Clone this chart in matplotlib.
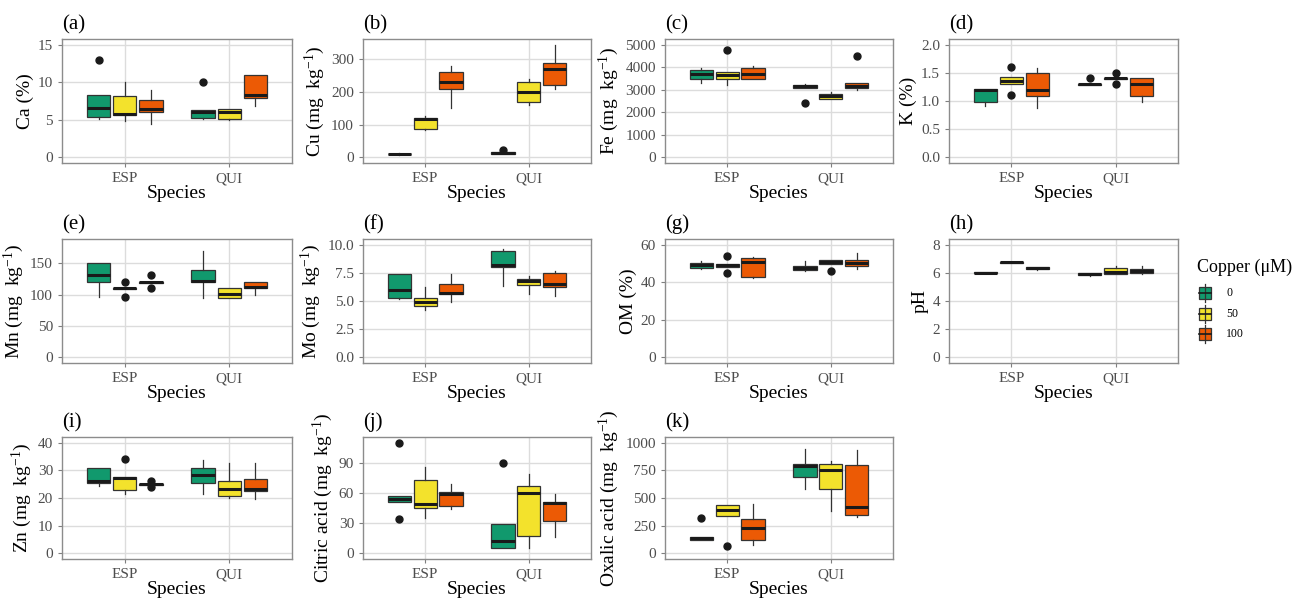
import matplotlib
matplotlib.use("Agg")
import matplotlib.pyplot as plt
from matplotlib.patches import Rectangle
from matplotlib.lines import Line2D

plt.rcParams['font.family'] = ['Liberation Serif', 'DejaVu Serif']
plt.rcParams['mathtext.fontset'] = 'custom'
plt.rcParams['mathtext.rm'] = 'Liberation Serif'
plt.rcParams['mathtext.it'] = 'Liberation Serif:italic'

species = ['ESP', 'QUI']
copper = ['0', '50', '100']
colors = ['#11996d', '#f3e22c', '#ec5a05']

# rows: ESP 0/50/100, QUI 0/50/100 ; cols: whisker low, Q1, median, Q3, whisker high
ca_box = [[5.1, 5.4, 6.6, 8.3, 8.3], [4.8, 5.6, 5.8, 8.2, 10.0], [4.5, 6.1, 6.5, 7.6, 8.9],
          [5.1, 5.3, 6.1, 6.3, 6.3], [5.0, 5.1, 6.0, 6.4, 6.4], [6.9, 7.9, 8.3, 11.0, 11.0]]
ca_out = [[13], [], [], [10], [], []]

cu_box = [[8, 9, 10, 11, 12], [85, 88, 118, 122, 128], [150, 210, 230, 260, 280],
          [10, 11, 13, 15, 16], [160, 170, 200, 230, 240], [210, 220, 270, 290, 345]]
cu_out = [[], [], [], [22], [], []]

fe_box = [[3320, 3470, 3680, 3890, 3960], [3200, 3480, 3640, 3790, 3800], [3480, 3480, 3690, 3980, 4050],
          [3070, 3070, 3150, 3230, 3270], [2580, 2580, 2700, 2810, 2890], [3010, 3060, 3160, 3300, 3300]]
fe_out = [[], [4780], [], [2400], [], [4500]]

k_box = [[0.91, 0.99, 1.19, 1.21, 1.21], [1.30, 1.30, 1.36, 1.42, 1.42], [0.88, 1.09, 1.20, 1.50, 1.59],
         [1.29, 1.29, 1.30, 1.31, 1.31], [1.39, 1.39, 1.40, 1.41, 1.41], [0.99, 1.09, 1.30, 1.40, 1.40]]
k_out = [[], [1.6, 1.1], [], [1.4], [1.5, 1.3], []]

mn_box = [[97, 120, 131, 150, 150], [109, 109, 110, 111, 111], [119, 119, 120, 121, 121],
          [94, 120, 122, 140, 170], [94, 95, 101, 110, 110], [100, 110, 112, 120, 120]]
mn_out = [[], [120, 97], [131, 110], [], [], []]

mo_box = [[5.15, 5.25, 5.96, 7.4, 7.4], [4.2, 4.56, 4.94, 5.26, 6.2], [4.94, 5.6, 5.7, 6.55, 7.36],
          [6.3, 8.05, 8.15, 9.4, 9.6], [5.6, 6.45, 6.75, 6.95, 7.2], [5.4, 6.2, 6.55, 7.47, 7.7]]
mo_out = [[], [], [], [], [], []]

om_box = [[46.8, 47.7, 48.9, 50.4, 51.2], [48.2, 48.2, 49.1, 49.8, 49.8], [42.1, 42.6, 50.7, 53.0, 53.5],
          [46.0, 46.5, 47.7, 48.8, 51.4], [49.5, 49.5, 50.9, 51.8, 51.8], [47.0, 48.8, 50.4, 51.8, 55.6]]
om_out = [[], [53.9, 44.7], [], [], [46.0], []]

ph_box = [[5.96, 5.96, 6.0, 6.05, 6.05], [6.71, 6.71, 6.75, 6.8, 6.8], [6.2, 6.25, 6.34, 6.43, 6.43],
          [5.78, 5.85, 5.92, 6.0, 6.0], [5.9, 5.94, 6.08, 6.34, 6.48], [5.92, 6.01, 6.15, 6.29, 6.48]]
ph_out = [[], [], [], [], [], []]

zn_box = [[24.2, 25.4, 26.0, 30.9, 30.9], [21.6, 22.8, 27.1, 27.5, 27.5], [24.7, 24.8, 25.0, 25.2, 25.3],
          [21.6, 25.5, 28.4, 30.9, 33.8], [19.9, 20.8, 23.2, 26.0, 32.7], [19.6, 22.5, 23.2, 26.9, 32.7]]
zn_out = [[], [34], [26, 24], [], [], []]

cit_box = [[50.7, 50.7, 53.7, 56.8, 56.8], [34.7, 45.4, 49.1, 73, 86], [43.9, 47, 59.3, 61.4, 69],
           [5, 5.5, 12.3, 29.2, 29.2], [5, 17.2, 60, 67, 79], [16, 32.5, 50, 51.3, 58.6]]
cit_out = [[110, 34.4], [], [], [89.3], [], []]

ox_box = [[123, 123, 137, 152, 152], [336, 336, 395, 439, 439], [73, 117, 228, 307, 444],
          [579, 687, 789, 804, 944], [380, 585, 751, 804, 833], [330, 351, 418, 795, 933]]
ox_out = [[316], [67], [], [], [], []]

unit = r'(mg  kg$^{-1}$)'
panels = [
    ('(a)', 'Ca (%)', ca_box, ca_out, [0, 5, 10, 15], 15, '{:g}'),
    ('(b)', 'Cu ' + unit, cu_box, cu_out, [0, 100, 200, 300], 345, '{:g}'),
    ('(c)', 'Fe ' + unit, fe_box, fe_out, [0, 1000, 2000, 3000, 4000, 5000], 5000, '{:g}'),
    ('(d)', 'K (%)', k_box, k_out, [0, 0.5, 1.0, 1.5, 2.0], 2.0, '{:.1f}'),
    ('(e)', 'Mn ' + unit, mn_box, mn_out, [0, 50, 100, 150], 180, '{:g}'),
    ('(f)', 'Mo ' + unit, mo_box, mo_out, [0, 2.5, 5.0, 7.5, 10.0], 10.0, '{:.1f}'),
    ('(g)', 'OM (%)', om_box, om_out, [0, 20, 40, 60], 60, '{:g}'),
    ('(h)', 'pH', ph_box, ph_out, [0, 2, 4, 6, 8], 8, '{:g}'),
    ('(i)', 'Zn ' + unit, zn_box, zn_out, [0, 10, 20, 30, 40], 40, '{:g}'),
    ('(j)', 'Citric acid ' + unit, cit_box, cit_out, [0, 30, 60, 90], 110, '{:g}'),
    ('(k)', 'Oxalic acid ' + unit, ox_box, ox_out, [0, 250, 500, 750, 1000], 1000, '{:g}'),
]

W, H = 1298, 600
fig = plt.figure(figsize=(W / 100, H / 100), dpi=100)

col_left = [62, 363, 665, 949]
col_right = [292, 591, 893, 1178]
row_top = [39, 239, 437]
row_bot = [163, 363, 559]

positions = [0.75, 1.0, 1.25, 1.75, 2.0, 2.25]
grey = '#4d4d4d'

for n, (tag, ylab, box, out, yticks, top, fmt) in enumerate(panels):
    r, c = divmod(n, 4)
    l, rt, t, b = col_left[c], col_right[c], row_top[r], row_bot[r]
    ax = fig.add_axes([l / W, 1 - b / H, (rt - l) / W, (b - t) / H])

    stats = []
    for i, (lo, q1, med, q3, hi) in enumerate(box):
        stats.append(dict(whislo=lo, q1=q1, med=med, q3=q3, whishi=hi, fliers=out[i]))
    bp = ax.bxp(stats, positions=positions, widths=0.225, patch_artist=True, showcaps=False,
                boxprops=dict(edgecolor='#333333', linewidth=0.9),
                medianprops=dict(color='#1a1a1a', linewidth=2.2, solid_capstyle='butt'),
                whiskerprops=dict(color='#333333', linewidth=0.9),
                flierprops=dict(marker='o', markerfacecolor='#1a1a1a', markeredgecolor='#1a1a1a',
                                markersize=5))
    for i, patch in enumerate(bp['boxes']):
        patch.set_facecolor(colors[i % 3])

    pad = 0.05 * top
    ax.set_ylim(-pad, top + pad)
    ax.set_xlim(0.4, 2.6)
    ax.set_xticks([1, 2])
    ax.set_xticklabels(species)
    ax.set_yticks(yticks)
    ax.set_yticklabels([fmt.format(v) for v in yticks])
    ax.set_axisbelow(True)
    ax.grid(True, color='#dcdcdc', linewidth=1.0)
    ax.tick_params(colors='#7f7f7f', labelcolor=grey, labelsize=11, length=3, width=0.8)
    for s in ax.spines.values():
        s.set_color('#8c8c8c')
        s.set_linewidth(1.0)
    ax.set_xlabel('Species', fontsize=14, labelpad=0)
    ax.set_ylabel(ylab, fontsize=14, labelpad=3)
    ax.text(0.0, 1.04, tag, transform=ax.transAxes, fontsize=15, ha='left', va='bottom')

# legend drawn in a small axes using pixel-like coordinates
lax = fig.add_axes([1190 / W, 1 - 350 / H, 108 / W, 100 / H])
lax.set_xlim(1190, 1298)
lax.set_ylim(350, 250)
lax.axis('off')
lax.text(1197, 267, 'Copper (\u03bcM)', fontsize=13, va='center', ha='left')
for i, lab in enumerate(copper):
    cy = 293 + i * 20.5
    lax.add_line(Line2D([1205, 1205], [cy - 9, cy + 9], color='#333333', linewidth=0.9))
    lax.add_patch(Rectangle((1199, cy - 6), 12, 12, facecolor=colors[i], edgecolor='#333333',
                            linewidth=0.9))
    lax.add_line(Line2D([1199, 1211], [cy, cy], color='#1a1a1a', linewidth=1.2))
    lax.text(1226, cy, lab, fontsize=8.5, va='center', ha='left')

fig.savefig('out.png', dpi=100)
